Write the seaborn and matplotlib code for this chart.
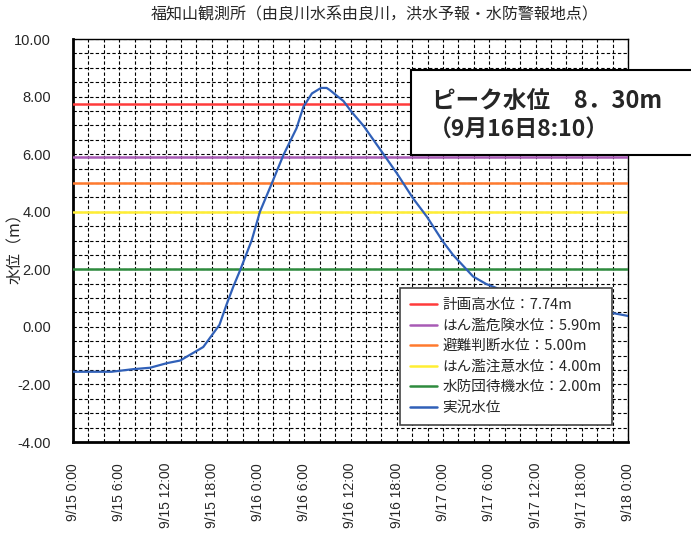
import matplotlib
matplotlib.use("Agg")
import matplotlib.pyplot as plt
from matplotlib.lines import Line2D
from matplotlib.patches import Rectangle
import seaborn as sns
import numpy as np

# ---- data ----
hours = [0, 5, 7.8, 10, 12.2, 13.9, 16.9, 19, 19.9, 20.8, 21.7, 23.2, 24.25, 25.8,
         27.3, 29.0, 29.9, 31.0, 32.17, 32.9, 33.3, 35.1, 36.1, 37.7, 40.2, 42.0,
         44.1, 45.9, 48.0, 49.3, 51.9, 53.6, 55.8, 58, 60, 62, 64, 66, 68, 70, 72]
levels = [-1.56, -1.56, -1.47, -1.42, -1.26, -1.17, -0.70, 0.07, 0.76, 1.40, 1.98, 3.02,
          4.00, 4.99, 5.97, 6.90, 7.65, 8.11, 8.30, 8.30, 8.23, 7.84, 7.48, 6.98, 6.03,
          5.34, 4.47, 3.83, 2.96, 2.50, 1.75, 1.49, 1.26, 1.12, 0.99, 0.88, 0.78, 0.68,
          0.58, 0.48, 0.38]

threshold_names = ["計画高水位：7.74m", "はん濫危険水位：5.90m", "避難判断水位：5.00m",
                   "はん濫注意水位：4.00m", "水防団待機水位：2.00m"]
threshold_values = [7.74, 5.90, 5.00, 4.00, 2.00]
threshold_colors = ["#FF3B3B", "#A85BB5", "#FF7A2E", "#FFEE33", "#2E8B3E"]
observed_name = "実況水位"
observed_color = "#3060B8"

xtick_hours = list(range(0, 73, 6))
xtick_labels = ["9/15 0:00", "9/15 6:00", "9/15 12:00", "9/15 18:00",
                "9/16 0:00", "9/16 6:00", "9/16 12:00", "9/16 18:00",
                "9/17 0:00", "9/17 6:00", "9/17 12:00", "9/17 18:00", "9/18 0:00"]
ytick_values = list(range(-4, 11, 2))

title = "福知山観測所（由良川水系由良川，洪水予報・水防警報地点）"
ylabel = "水位（m）"
peak_line1 = "ピーク水位　8．30m"
peak_line2 = "（9月16日8:10）"

# ---- style ----
sns.set_style("white")
plt.rcParams["font.family"] = ["Noto Sans CJK JP", "DejaVu Sans"]

fig = plt.figure(figsize=(6.91, 5.35), dpi=100)
ax = fig.add_axes([73/691, 1-442/535, (628-73)/691, (442-39)/535])

for v, c in zip(threshold_values, threshold_colors):
    ax.axhline(v, color=c, lw=1.8, zorder=3)

sns.lineplot(x=hours, y=levels, ax=ax, color=observed_color, lw=1.6, zorder=4,
             legend=False)

ax.set_xlim(0, 72)
ax.set_ylim(-4, 10)
ax.set_xticks(xtick_hours)
ax.set_xticklabels(xtick_labels, rotation=90, fontsize=10,
                   family=["Liberation Sans", "DejaVu Sans"])
ax.set_xticks(np.arange(0, 73, 2), minor=True)
ax.set_yticks(ytick_values)
ax.set_yticklabels([f"{v:.2f}" for v in ytick_values], fontsize=10.5,
                   family=["Liberation Sans", "DejaVu Sans"])
ax.set_yticks(np.arange(-4, 10.01, 0.5), minor=True)
ax.grid(True, which="both", color="black", linestyle=(0, (3, 2)), lw=0.8, zorder=1)
ax.tick_params(axis="both", which="both", direction="in", length=3, width=0.8,
               color="#555555")
ax.tick_params(axis="x", pad=15)
ax.tick_params(axis="y", pad=16)

for side in ["left", "bottom"]:
    ax.spines[side].set_linewidth(2.0)
for side in ["top", "right"]:
    ax.spines[side].set_linewidth(1.0)
for s in ax.spines.values():
    s.set_color("black")

ax.set_ylabel(ylabel, fontsize=11.5, va="center")
ax.yaxis.set_label_coords((16-73)/555, (442-245)/403)
fig.text(375/691, 1-15/535, title, ha="center", va="center", fontsize=11.5)

handles = [Line2D([], [], color=c, lw=1.8) for c in threshold_colors]
handles.append(Line2D([], [], color=observed_color, lw=1.8))
leg = ax.legend(handles, threshold_names + [observed_name], loc="lower right",
                bbox_to_anchor=(0.971, 0.042), fontsize=10.5, frameon=True,
                fancybox=False, framealpha=1, edgecolor="#444444",
                handlelength=1.8, labelspacing=0.45, borderaxespad=0,
                handletextpad=0.4, borderpad=0.7)
leg.get_frame().set_linewidth(1.2)
leg.set_zorder(10)

# peak annotation box (figure coords)
rect = Rectangle((411/691, 1-155/535), (700-411)/691, 85/535, transform=fig.transFigure,
                 facecolor="white", edgecolor="black", lw=1.5, zorder=20)
fig.patches.append(rect)
fig.text(432/691, 1-101/535, peak_line1, ha="left", va="center", fontsize=17,
         fontweight="bold", zorder=21)
fig.text(429/691, 1-130/535, peak_line2, ha="left", va="center", fontsize=16.5,
         fontweight="bold", zorder=21)

fig.savefig("out.png", dpi=100)
